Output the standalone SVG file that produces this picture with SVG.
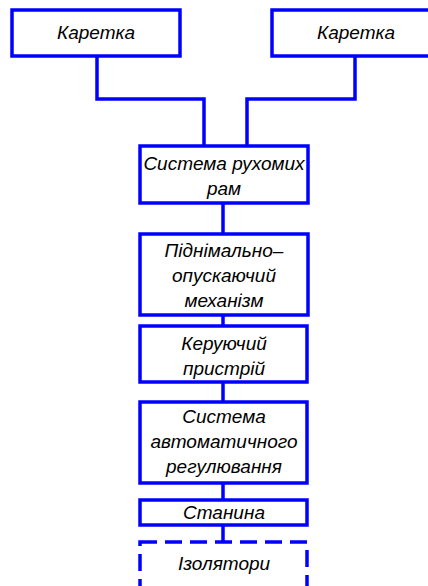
<svg xmlns="http://www.w3.org/2000/svg" width="428" height="586" viewBox="0 0 428 586">
<style>
.box{fill:#fff;stroke:#0000ff;stroke-width:3.5}
.dash{stroke-dasharray:17 8}
.conn{fill:none;stroke:#0000ff;stroke-width:3.5}
text{font-family:"Liberation Sans",Arial,sans-serif;font-style:italic;font-size:19px;fill:#000;text-anchor:middle}
</style>
<rect width="428" height="586" fill="#fff"/>
<g id="connectors">
<polyline class="conn" points="97,56 97,99 204,99 204,146"/>
<polyline class="conn" points="355,56 355,99 247,99 247,146"/>
<line class="conn" x1="223" y1="203" x2="223" y2="234"/>
<line class="conn" x1="223" y1="315" x2="223" y2="326"/>
<line class="conn" x1="223" y1="382" x2="223" y2="402"/>
<line class="conn" x1="223" y1="483" x2="223" y2="500"/>
<line class="conn" x1="223" y1="525" x2="223" y2="542"/>
</g>
<g id="kareta1"><rect class="box" x="12" y="10" width="168" height="46"/><text x="96" y="39">Каретка</text></g>
<g id="kareta2"><rect class="box" x="272" y="10" width="168" height="46"/><text x="356" y="39">Каретка</text></g>
<g id="systema-ram"><rect class="box" x="140" y="146" width="168" height="57"/><text x="224" y="170">Система рухомих</text><text x="224" y="195">рам</text></g>
<g id="mekhanizm"><rect class="box" x="140" y="234" width="168" height="81"/><text x="224" y="257">Піднімально–</text><text x="224" y="282">опускаючий</text><text x="224" y="307">механізм</text></g>
<g id="keruiuchyi"><rect class="box" x="140" y="326" width="167" height="56"/><text x="224" y="350">Керуючий</text><text x="224" y="375">пристрій</text></g>
<g id="regulyuvannya"><rect class="box" x="140" y="402" width="167" height="81"/><text x="224" y="423">Система</text><text x="224" y="448">автоматичного</text><text x="224" y="473">регулювання</text></g>
<g id="stanyna"><rect class="box" x="140" y="500" width="167" height="25"/><text x="224" y="519">Станина</text></g>
<g id="izolyatory"><rect class="box dash" x="140" y="542" width="167" height="60"/><text x="224" y="570">Ізолятори</text></g>
</svg>
